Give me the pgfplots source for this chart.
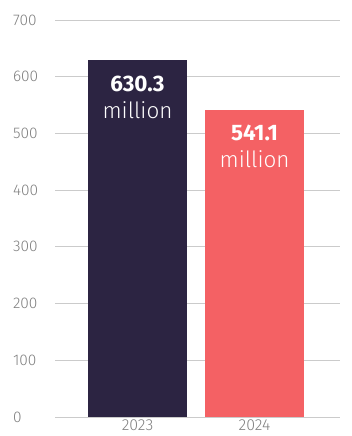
\documentclass[border=0pt]{standalone}
\usepackage{fontspec}
\setmainfont{Fira Sans}
\newfontfamily\lightfont{Fira Sans Light}
\usepackage{pgfplots}
\pgfplotsset{compat=1.18}
\definecolor{navy}{HTML}{2C2442}
\definecolor{coral}{HTML}{F46164}
\definecolor{gridgrey}{HTML}{CBCBCB}
\definecolor{labgrey}{HTML}{808080}
\begin{document}
\begin{tikzpicture}
\begin{axis}[
  name=ax,
  scale only axis,
  width=285bp, height=397bp,
  xmin=-0.705, xmax=1.73,
  ymin=0, ymax=700,
  ytick={0,100,...,700},
  xtick={0,1},
  xticklabels={2023,2024},
  ymajorgrids,
  grid style={gridgrey, line width=0.9bp},
  axis line style={draw=none},
  tick style={draw=none},
  /pgf/number format/assume math mode=true,
  yticklabel style={anchor=west, xshift=-45.5bp, font=\lightfont\fontsize{15.5}{16}\selectfont, text=labgrey},
  xticklabel style={font=\lightfont\fontsize{16}{17}\selectfont, text=labgrey, inner sep=1bp, yshift=-2bp},
  nodes near coords style={anchor=north, align=center, text=white, font=\fontsize{22.5}{27}\selectfont},
  clip=false,
]
\addplot[ybar, bar width=99bp, bar shift=0pt, fill=navy, draw=none,
  nodes near coords={\textbf{\pgfmathprintnumber[fixed,precision=1,fixed zerofill]{\pgfplotspointmeta}}\\{\lightfont million}},
  nodes near coords style={yshift=-13bp}]
  coordinates {(0,630.3)};
\addplot[ybar, bar width=99bp, bar shift=0pt, fill=coral, draw=none,
  nodes near coords={\textbf{\pgfmathprintnumber[fixed,precision=1,fixed zerofill]{\pgfplotspointmeta}}\\{\lightfont million}},
  nodes near coords style={yshift=-11bp}]
  coordinates {(1,541.1)};
\end{axis}
\pgfresetboundingbox
\path[use as bounding box] ([shift={(-55bp,-19bp)}]ax.south west) rectangle ++(352bp,436bp);
\end{tikzpicture}
\end{document}
